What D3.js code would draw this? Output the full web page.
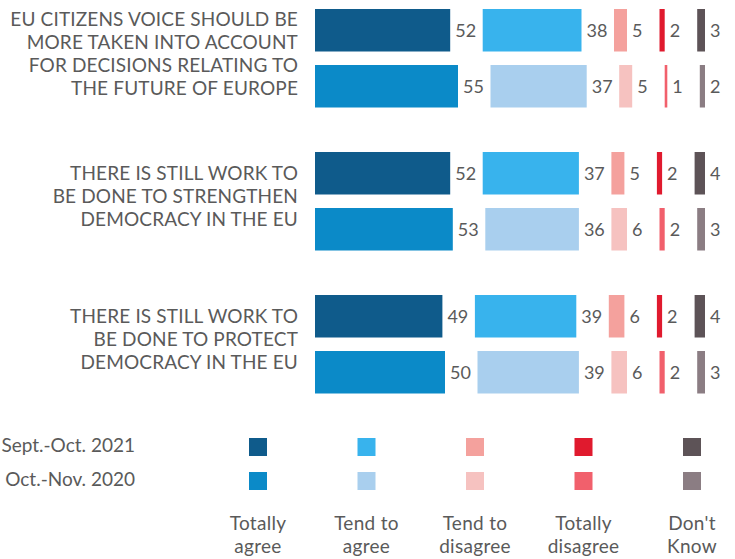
<!DOCTYPE html>
<html>
<head>
<meta charset="utf-8">
<script src="https://cdn.jsdelivr.net/npm/d3@7"></script>
<style>
  html, body { margin: 0; padding: 0; background: #ffffff; }
  svg { display: block; }
  text { font-family: Lato, "Open Sans", sans-serif; }
</style>
</head>
<body>
<svg id="chart" width="735" height="559"></svg>
<script>
// ---- data ----
const questions = [
  "EU CITIZENS VOICE SHOULD BE|MORE TAKEN INTO ACCOUNT|FOR DECISIONS RELATING TO|THE FUTURE OF EUROPE",
  "THERE IS STILL WORK TO|BE DONE TO STRENGTHEN|DEMOCRACY IN THE EU",
  "THERE IS STILL WORK TO|BE DONE TO PROTECT|DEMOCRACY IN THE EU"
];
const waves = ["Sept.-Oct. 2021", "Oct.-Nov. 2020"];
const answers = ["Totally|agree", "Tend to|agree", "Tend to|disagree", "Totally|disagree", "Don't|Know"];
const values2021 = [
  [52, 38, 5, 2, 3],
  [52, 37, 5, 2, 4],
  [49, 39, 6, 2, 4]
];
const values2020 = [
  [55, 37, 5, 1, 2],
  [53, 36, 6, 2, 3],
  [50, 39, 6, 2, 3]
];
const colors2021 = ["#0f5b8b", "#38b3ed", "#f4a19d", "#e01a2e", "#5d5357"];
const colors2020 = ["#0b8ac8", "#a9cfee", "#f6c2c0", "#f1606c", "#8b7d83"];

// ---- layout ----
const svg = d3.select("#chart");
const textColor = "#5a5a5a";
const barStart = 315, gap = 32.5, labelRight = 298;

const x = d3.scaleLinear().domain([0, 100]).range([0, 260]);
const gy = d3.scaleBand().domain(d3.range(questions.length)).range([9, 9 + 3 * 143]);
const wy = d3.scaleBand().domain(waves).range([0, 98.5]).paddingInner(13.5 / 56).paddingOuter(0);

const seriesVals = [values2021, values2020];
const seriesCols = [colors2021, colors2020];

questions.forEach((q, qi) => {
  const g = svg.append("g").attr("transform", `translate(0,${gy(qi)})`);
  // question label
  const lines = q.split("|");
  const center = 98.5 / 2 - 5;
  const lh = 23;
  lines.forEach((ln, i) => {
    g.append("text")
      .attr("text-anchor", "end")
      .attr("fill", textColor)
      .style("font-size", "19px")
      .style("letter-spacing", "0.15px")
      .attr("x", labelRight)
      .attr("y", center + (i - (lines.length - 1) / 2) * lh)
      .attr("dy", "0.36em")
      .text(ln);
  });

  waves.forEach((w, wi) => {
    const vals = seriesVals[wi][qi];
    const cols = seriesCols[wi];
    const cum = d3.cumsum(vals);
    const segs = vals.map((v, k) => ({
      v, k,
      x0: barStart + x(k === 0 ? 0 : cum[k - 1]) + k * gap,
      w: x(v),
      c: cols[k]
    }));
    const row = g.append("g").attr("transform", `translate(0,${wy(w)})`);
    row.selectAll("rect").data(segs).join("rect")
      .attr("x", d => d.x0)
      .attr("y", 0)
      .attr("width", d => d.w)
      .attr("height", wy.bandwidth())
      .attr("fill", d => d.c);
    row.selectAll("text").data(segs).join("text")
      .attr("x", d => d.x0 + d.w + 5)
      .attr("y", wy.bandwidth() / 2)
      .attr("dy", "0.36em")
      .attr("fill", textColor)
      .style("font-size", "18px")
      .text(d => d.v);
  });
});

// ---- legend ----
const lx = d3.scalePoint().domain(answers).range([258, 692]);
const ly = d3.scaleBand().domain(waves).range([438, 490]).paddingInner(16 / 34);
const sq = ly.bandwidth();

waves.forEach((w, wi) => {
  svg.append("text")
    .attr("x", 135)
    .attr("y", ly(w) + sq / 2 - 1.5)
    .attr("dy", "0.36em")
    .attr("text-anchor", "end")
    .attr("fill", textColor)
    .style("font-size", "19px")
    .text(w);
  svg.append("g").selectAll("rect").data(answers).join("rect")
    .attr("x", a => lx(a) - sq / 2)
    .attr("y", ly(w))
    .attr("width", sq)
    .attr("height", sq)
    .attr("fill", (a, i) => seriesCols[wi][i]);
});

answers.forEach(a => {
  a.split("|").forEach((ln, i) => {
    svg.append("text")
      .attr("text-anchor", "middle")
      .attr("fill", textColor)
      .style("font-size", "19px")
      .style("letter-spacing", "0.3px")
      .attr("x", lx(a))
      .attr("y", 530 + i * 23)
      .text(ln);
  });
});
</script>
</body>
</html>
